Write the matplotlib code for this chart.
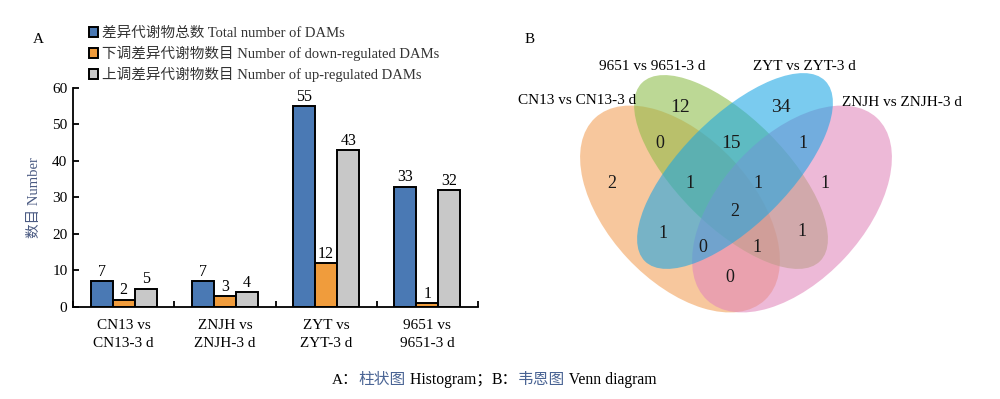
import matplotlib.pyplot as plt
from matplotlib.patches import Ellipse
import numpy as np

plt.rcParams['font.family'] = ['Liberation Serif', 'Noto Sans CJK SC']
plt.rcParams['axes.linewidth'] = 1.3

# bar chart data
groups = ['CN13 vs\nCN13-3 d', 'ZNJH vs\nZNJH-3 d', 'ZYT vs\nZYT-3 d', '9651 vs\n9651-3 d']
total = [7, 7, 55, 33]
down = [2, 3, 12, 1]
up = [5, 4, 43, 32]
series_names = ['差异代谢物总数 Total number of DAMs',
                '下调差异代谢物数目 Number of down-regulated DAMs',
                '上调差异代谢物数目 Number of up-regulated DAMs']
bar_colors = ['#4a79b4', '#f09c3c', '#c8c8c8']

# venn data (A = CN13, B = 9651, C = ZYT, D = ZNJH)
venn_sets = ['CN13 vs CN13-3 d', '9651 vs 9651-3 d', 'ZYT vs ZYT-3 d', 'ZNJH vs ZNJH-3 d']
venn_regions = ['A', 'B', 'C', 'D', 'AB', 'BC', 'CD', 'AC', 'BD', 'AD',
                'ABC', 'BCD', 'ACD', 'ABD', 'ABCD']
venn_counts = [2, 12, 34, 1, 0, 15, 1, 1, 1, 0, 1, 1, 0, 1, 2]

# venn layout, in pixel units of the figure
ellipse_geom = {
    'A': ((680, 209), 249, 144, 47),
    'B': ((731, 172), 252, 108, 45),
    'D': ((792, 209), 249, 144, -47),
    'C': ((735, 171), 255, 108, -45),
}
ellipse_colors = {'A': '#f2a057', 'B': '#8cbc48', 'C': '#1aa6e4', 'D': '#e187bb'}
region_pos = {
    'A': (612, 184), 'B': (680, 107), 'C': (781, 107), 'D': (825, 183),
    'AB': (660, 143), 'BC': (731, 143), 'CD': (803, 143), 'AC': (663, 233),
    'BD': (802, 232), 'AD': (730, 278), 'ABC': (690, 183), 'BCD': (758, 183),
    'ACD': (703, 248), 'ABD': (757, 248), 'ABCD': (735, 211),
}
set_label_pos = [(577, 101), (652, 67), (804, 67), (902, 102)]

fig = plt.figure(figsize=(10, 3.99), dpi=100)

# ---- A: bar chart ----
ax = fig.add_axes([0.073, 0.2306, 0.405, 0.5489])
x = np.arange(len(groups))
w = 0.218
for i, (vals, col, name) in enumerate(zip([total, down, up], bar_colors, series_names)):
    bars = ax.bar(x + (i - 1) * w, vals, w, color=col, edgecolor='black',
                  linewidth=1.4, label=name)
    ax.bar_label(bars, padding=1, fontsize=11.5)

ax.set_xlim(-0.5, len(groups) - 0.5)
ax.set_ylim(0, 60)
ax.set_yticks(range(0, 61, 10))
ax.set_xticks(x)
ax.set_xticklabels(groups, fontsize=11, linespacing=1.42)
ax.set_xticks(np.arange(-0.5, len(groups)), minor=True)
ax.tick_params(axis='x', which='major', length=0, pad=9)
ax.tick_params(axis='x', which='minor', direction='in', length=4, width=1.3)
ax.tick_params(axis='y', direction='in', length=4, width=1.3, labelsize=11, pad=4)
ax.spines['top'].set_visible(False)
ax.spines['right'].set_visible(False)
ax.set_ylabel('数目 Number', fontsize=10.5, color='#4a5a82', labelpad=8)

handles, labels = ax.get_legend_handles_labels()
fig.legend(handles, labels, loc='upper left', bbox_to_anchor=(0.0815, 0.951),
           frameon=False, fontsize=10.5, handlelength=0.6, handleheight=0.6,
           handletextpad=0.3, labelspacing=0.39, borderpad=0, labelcolor='#333333')

fig.text(0.038, 0.9, 'A', fontsize=11, ha='center', va='center')
fig.text(0.530, 0.9, 'B', fontsize=11, ha='center', va='center')

# ---- B: venn diagram ----
vx = fig.add_axes([0.5, 0.0, 0.5, 1.0])
vx.set_xlim(500, 1000)
vx.set_ylim(399, 0)
vx.axis('off')
for key in ['A', 'B', 'D', 'C']:
    center, width, height, angle = ellipse_geom[key]
    vx.add_patch(Ellipse(center, width, height, angle=angle,
                         facecolor=ellipse_colors[key], edgecolor='none', alpha=0.58))
for reg, cnt in zip(venn_regions, venn_counts):
    px, py = region_pos[reg]
    big = reg in ('B', 'C', 'BC')
    vx.text(px, py, str(cnt), fontsize=14 if big else 13, ha='center', va='center',
            color='#1a1a1a')
for name, (px, py) in zip(venn_sets, set_label_pos):
    vx.text(px, py, name, fontsize=11, ha='center', va='center')

# ---- caption ----
blue_txt = '#4a6494'
pieces = [('A：', 'black'), ('柱状图', blue_txt), (' Histogram；', 'black'),
          ('B：', 'black'), ('韦恩图', blue_txt), (' Venn diagram', 'black')]
prev = fig.text(0.332, 0.047, pieces[0][0], fontsize=11, color=pieces[0][1],
                ha='left', va='center')
for txt, col in pieces[1:]:
    prev = plt.annotate(txt, xy=(1, 0.5), xycoords=prev, fontsize=11.3, color=col,
                        ha='left', va='center', annotation_clip=False)

fig.savefig('out.png', dpi=100)
